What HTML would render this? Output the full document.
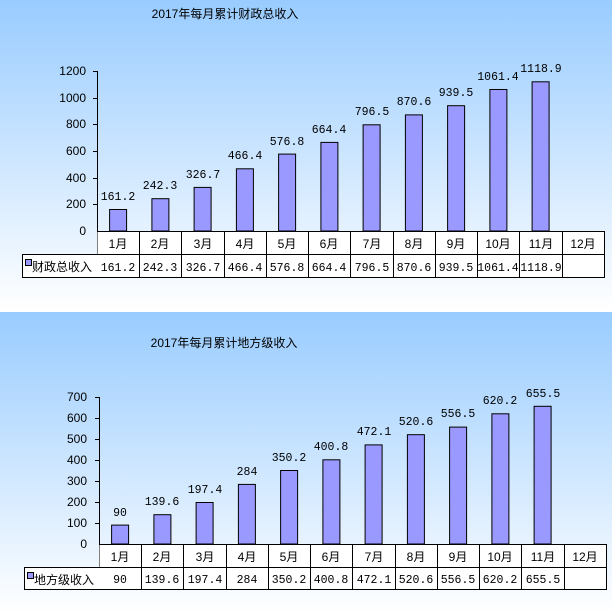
<!DOCTYPE html>
<html><head><meta charset="utf-8"><style>
html,body{margin:0;padding:0;background:#fff;}
svg{display:block}
.t{font-family:"Liberation Sans","Noto Sans CJK SC",sans-serif;font-size:12px;fill:#000}
.m{font-family:"Liberation Mono","Noto Sans CJK SC",monospace;font-size:11.5px;fill:#000}
.c{font-family:"Liberation Sans","Noto Sans CJK SC",sans-serif;font-size:12px;fill:#000}
</style></head><body>
<svg width="612" height="614" xmlns="http://www.w3.org/2000/svg">
<defs>
<linearGradient id="g" x1="0" y1="0" x2="0" y2="1">
<stop offset="0" stop-color="#99ccff"/><stop offset="1" stop-color="#ffffff"/>
</linearGradient>
</defs>
<rect x="0" y="0" width="612" height="311" fill="url(#g)"/>
<rect x="0" y="312" width="612" height="302" fill="url(#g)"/>

<!-- TOP CHART -->
<text class="c" x="225" y="18" text-anchor="middle">2017年每月累计财政总收入</text>
<g class="t" text-anchor="end">
<text x="86" y="75">1200</text><text x="86" y="102">1000</text><text x="86" y="128">800</text>
<text x="86" y="155">600</text><text x="86" y="182">400</text><text x="86" y="208">200</text><text x="86" y="235">0</text>
</g>
<g stroke="#000" stroke-width="1">
<line x1="97.5" y1="71" x2="97.5" y2="277"/>
<line x1="93" y1="71.5" x2="97" y2="71.5"/><line x1="93" y1="98.5" x2="97" y2="98.5"/><line x1="93" y1="124.5" x2="97" y2="124.5"/>
<line x1="93" y1="151.5" x2="97" y2="151.5"/><line x1="93" y1="178.5" x2="97" y2="178.5"/><line x1="93" y1="204.5" x2="97" y2="204.5"/>
</g>
<g fill="#9999ff" stroke="#000" stroke-width="1">
<rect x="109.6" y="209.5" width="17" height="21.5"/>
<rect x="151.9" y="198.7" width="17" height="32.3"/>
<rect x="194.1" y="187.4" width="17" height="43.6"/>
<rect x="236.4" y="168.8" width="17" height="62.2"/>
<rect x="278.6" y="154.1" width="17" height="76.9"/>
<rect x="320.9" y="142.4" width="17" height="88.6"/>
<rect x="363.1" y="124.8" width="17" height="106.2"/>
<rect x="405.4" y="114.9" width="17" height="116.1"/>
<rect x="447.6" y="105.7" width="17" height="125.3"/>
<rect x="489.9" y="89.5" width="17" height="141.5"/>
<rect x="532.1" y="81.8" width="17" height="149.2"/>
</g>
<g class="m" text-anchor="middle">
<text x="118" y="200">161.2</text><text x="160" y="189">242.3</text><text x="203" y="178">326.7</text>
<text x="245" y="159">466.4</text><text x="287" y="145">576.8</text><text x="329" y="133">664.4</text>
<text x="372" y="115">796.5</text><text x="414" y="105">870.6</text><text x="456" y="96">939.5</text>
<text x="498" y="80">1061.4</text><text x="541" y="72">1118.9</text>
</g>
<!-- table -->
<g fill="#fff"><rect x="97.5" y="231.5" width="507" height="46"/><rect x="22.5" y="254.5" width="75" height="23"/></g>
<g stroke="#000" stroke-width="1" fill="none">
<line x1="97" y1="231.5" x2="604.5" y2="231.5"/>
<line x1="22" y1="254.5" x2="604.5" y2="254.5"/>
<line x1="22" y1="277.5" x2="604.5" y2="277.5"/>
<line x1="22.5" y1="254" x2="22.5" y2="278"/>
<line x1="139.5" y1="231" x2="139.5" y2="278"/><line x1="181.5" y1="231" x2="181.5" y2="278"/><line x1="224.5" y1="231" x2="224.5" y2="278"/>
<line x1="266.5" y1="231" x2="266.5" y2="278"/><line x1="308.5" y1="231" x2="308.5" y2="278"/><line x1="350.5" y1="231" x2="350.5" y2="278"/>
<line x1="393.5" y1="231" x2="393.5" y2="278"/><line x1="435.5" y1="231" x2="435.5" y2="278"/><line x1="477.5" y1="231" x2="477.5" y2="278"/>
<line x1="519.5" y1="231" x2="519.5" y2="278"/><line x1="562.5" y1="231" x2="562.5" y2="278"/><line x1="604.5" y1="231" x2="604.5" y2="278"/>
</g>
<rect x="25.5" y="259.5" width="6" height="6" fill="#9999ff" stroke="#000"/>
<text class="t" x="32" y="271">财政总收入</text>
<g class="t" text-anchor="middle">
<text x="118" y="248">1月</text><text x="160" y="248">2月</text><text x="203" y="248">3月</text><text x="245" y="248">4月</text>
<text x="287" y="248">5月</text><text x="329" y="248">6月</text><text x="372" y="248">7月</text><text x="414" y="248">8月</text>
<text x="456" y="248">9月</text><text x="498" y="248">10月</text><text x="541" y="248">11月</text><text x="583" y="248">12月</text>
</g>
<g class="m" text-anchor="middle">
<text x="118" y="271">161.2</text><text x="160" y="271">242.3</text><text x="203" y="271">326.7</text><text x="245" y="271">466.4</text>
<text x="287" y="271">576.8</text><text x="329" y="271">664.4</text><text x="372" y="271">796.5</text><text x="414" y="271">870.6</text>
<text x="456" y="271">939.5</text><text x="498" y="271">1061.4</text><text x="541" y="271">1118.9</text>
</g>

<!-- BOTTOM CHART -->
<text class="c" x="224" y="347" text-anchor="middle">2017年每月累计地方级收入</text>
<g class="t" text-anchor="end">
<text x="87" y="401">700</text><text x="87" y="422">600</text><text x="87" y="443">500</text><text x="87" y="464">400</text>
<text x="87" y="485">300</text><text x="87" y="506">200</text><text x="87" y="527">100</text><text x="87" y="548">0</text>
</g>
<g stroke="#000" stroke-width="1">
<line x1="99.5" y1="397" x2="99.5" y2="589"/>
<line x1="95" y1="397.5" x2="99" y2="397.5"/><line x1="95" y1="418.5" x2="99" y2="418.5"/><line x1="95" y1="439.5" x2="99" y2="439.5"/>
<line x1="95" y1="460.5" x2="99" y2="460.5"/><line x1="95" y1="481.5" x2="99" y2="481.5"/><line x1="95" y1="502.5" x2="99" y2="502.5"/><line x1="95" y1="523.5" x2="99" y2="523.5"/>
</g>
<g fill="#9999ff" stroke="#000" stroke-width="1">
<rect x="111.6" y="525.1" width="17" height="18.9"/>
<rect x="153.9" y="514.7" width="17" height="29.3"/>
<rect x="196.1" y="502.5" width="17" height="41.5"/>
<rect x="238.4" y="484.4" width="17" height="59.6"/>
<rect x="280.6" y="470.5" width="17" height="73.5"/>
<rect x="322.9" y="459.8" width="17" height="84.2"/>
<rect x="365.1" y="444.9" width="17" height="99.1"/>
<rect x="407.4" y="434.7" width="17" height="109.3"/>
<rect x="449.6" y="427.1" width="17" height="116.9"/>
<rect x="491.9" y="413.8" width="17" height="130.2"/>
<rect x="534.1" y="406.3" width="17" height="137.7"/>
</g>
<g class="m" text-anchor="middle">
<text x="120" y="516">90</text><text x="162" y="505">139.6</text><text x="205" y="493">197.4</text>
<text x="247" y="475">284</text><text x="289" y="461">350.2</text><text x="331" y="450">400.8</text>
<text x="374" y="435">472.1</text><text x="416" y="425">520.6</text><text x="458" y="417">556.5</text>
<text x="500" y="404">620.2</text><text x="543" y="397">655.5</text>
</g>
<g fill="#fff"><rect x="99.5" y="544.5" width="507" height="45"/><rect x="24.5" y="567.5" width="75" height="22"/></g>
<g stroke="#000" stroke-width="1" fill="none">
<line x1="99" y1="544.5" x2="606.5" y2="544.5"/>
<line x1="24" y1="567.5" x2="606.5" y2="567.5"/>
<line x1="24" y1="589.5" x2="606.5" y2="589.5"/>
<line x1="24.5" y1="567" x2="24.5" y2="590"/>
<line x1="141.5" y1="544" x2="141.5" y2="590"/><line x1="183.5" y1="544" x2="183.5" y2="590"/><line x1="226.5" y1="544" x2="226.5" y2="590"/>
<line x1="268.5" y1="544" x2="268.5" y2="590"/><line x1="310.5" y1="544" x2="310.5" y2="590"/><line x1="352.5" y1="544" x2="352.5" y2="590"/>
<line x1="395.5" y1="544" x2="395.5" y2="590"/><line x1="437.5" y1="544" x2="437.5" y2="590"/><line x1="479.5" y1="544" x2="479.5" y2="590"/>
<line x1="521.5" y1="544" x2="521.5" y2="590"/><line x1="564.5" y1="544" x2="564.5" y2="590"/><line x1="606.5" y1="544" x2="606.5" y2="590"/>
</g>
<rect x="27.5" y="572.5" width="6" height="6" fill="#9999ff" stroke="#000"/>
<text class="t" x="34" y="584">地方级收入</text>
<g class="t" text-anchor="middle">
<text x="120" y="561">1月</text><text x="162" y="561">2月</text><text x="205" y="561">3月</text><text x="247" y="561">4月</text>
<text x="289" y="561">5月</text><text x="331" y="561">6月</text><text x="374" y="561">7月</text><text x="416" y="561">8月</text>
<text x="458" y="561">9月</text><text x="500" y="561">10月</text><text x="543" y="561">11月</text><text x="585" y="561">12月</text>
</g>
<g class="m" text-anchor="middle">
<text x="120" y="583">90</text><text x="162" y="583">139.6</text><text x="205" y="583">197.4</text><text x="247" y="583">284</text>
<text x="289" y="583">350.2</text><text x="331" y="583">400.8</text><text x="374" y="583">472.1</text><text x="416" y="583">520.6</text>
<text x="458" y="583">556.5</text><text x="500" y="583">620.2</text><text x="543" y="583">655.5</text>
</g>
</svg>
</body></html>
